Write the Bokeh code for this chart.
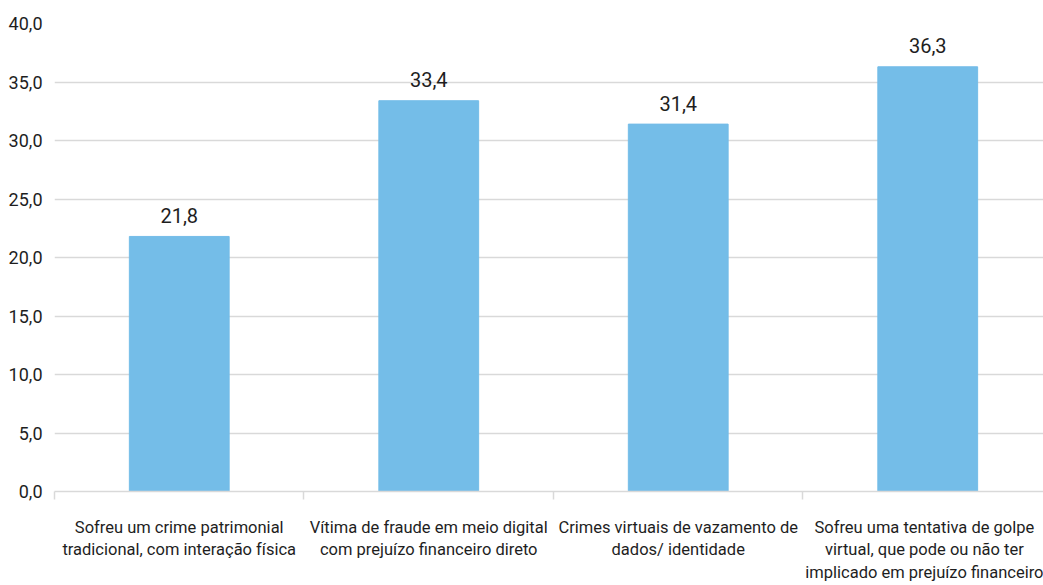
from bokeh.plotting import figure
from bokeh.models import ColumnDataSource, FixedTicker, Range1d
from bokeh.core.properties import value
from bokeh.embed import file_html
from bokeh.resources import INLINE

categories = [
    "Sofreu um crime patrimonial\ntradicional, com interação física",
    "Vítima de fraude em meio digital\ncom prejuízo financeiro direto",
    "Crimes virtuais de vazamento de\ndados/ identidade",
    "Sofreu uma tentativa de golpe\nvirtual, que pode ou não ter\nimplicado em prejuízo financeiro",
]
values = [21.8, 33.4, 31.4, 36.3]
y_ticks = [0, 5, 10, 15, 20, 25, 30, 35, 40]
y_tick_labels = ["0,0", "5,0", "10,0", "15,0", "20,0", "25,0", "30,0", "35,0", "40,0"]

FONT = "Roboto"
BAR = "#74BDE8"
GRID = "#D9D9D9"
TXT = "#1E1E1E"

positions = list(range(1, len(categories) + 1))
labels = [f"{v:.1f}".replace(".", ",") for v in values]
src = ColumnDataSource(dict(x=positions, top=values, label=labels))

p = figure(frame_width=989, frame_height=468, output_backend="svg", toolbar_location=None,
           x_range=Range1d(0.5, 4.464), y_range=Range1d(0, 40),
           min_border_left=54, min_border_right=0, min_border_top=23, min_border_bottom=0)
p.outline_line_color = None
p.background_fill_color = "white"
p.border_fill_color = "white"

p.vbar(x="x", top="top", bottom=0, width=0.4, color=BAR, source=src)
p.text(x="x", y="top", text="label", source=src, text_align="center",
       text_baseline="alphabetic", y_offset=-21, text_font=value(FONT),
       text_font_size="20px", text_color=TXT)

# y axis
yax = p.yaxis[0]
yax.ticker = FixedTicker(ticks=y_ticks)
yax.major_label_overrides = {t: l for t, l in zip(y_ticks, y_tick_labels)}
yax.axis_line_color = None
yax.major_tick_line_color = None
yax.major_tick_out = 0
yax.minor_tick_line_color = None
yax.major_label_text_font = FONT
yax.major_label_text_font_size = "18px"
yax.major_label_text_color = TXT
yax.major_label_standoff = 12

# x axis
xax = p.xaxis[0]
xax.ticker = FixedTicker(ticks=positions, minor_ticks=[i + 0.5 for i in range(0, len(categories) + 1)])
xax.major_label_overrides = {i: c for i, c in zip(positions, categories)}
xax.axis_line_color = GRID
xax.axis_line_width = 1.5
xax.major_tick_line_color = None
xax.major_tick_out = 0
xax.minor_tick_line_color = GRID
xax.minor_tick_line_width = 1.5
xax.minor_tick_in = 0
xax.minor_tick_out = 8
xax.major_label_text_font = FONT
xax.major_label_text_font_size = "16.5px"
xax.major_label_text_color = TXT
xax.major_label_standoff = 18

p.xgrid.grid_line_color = None
p.ygrid.ticker = FixedTicker(ticks=y_ticks[1:])
p.ygrid.grid_line_color = GRID
p.ygrid.grid_line_width = 1.5

open("out.html", "w").write(file_html(p, INLINE))
